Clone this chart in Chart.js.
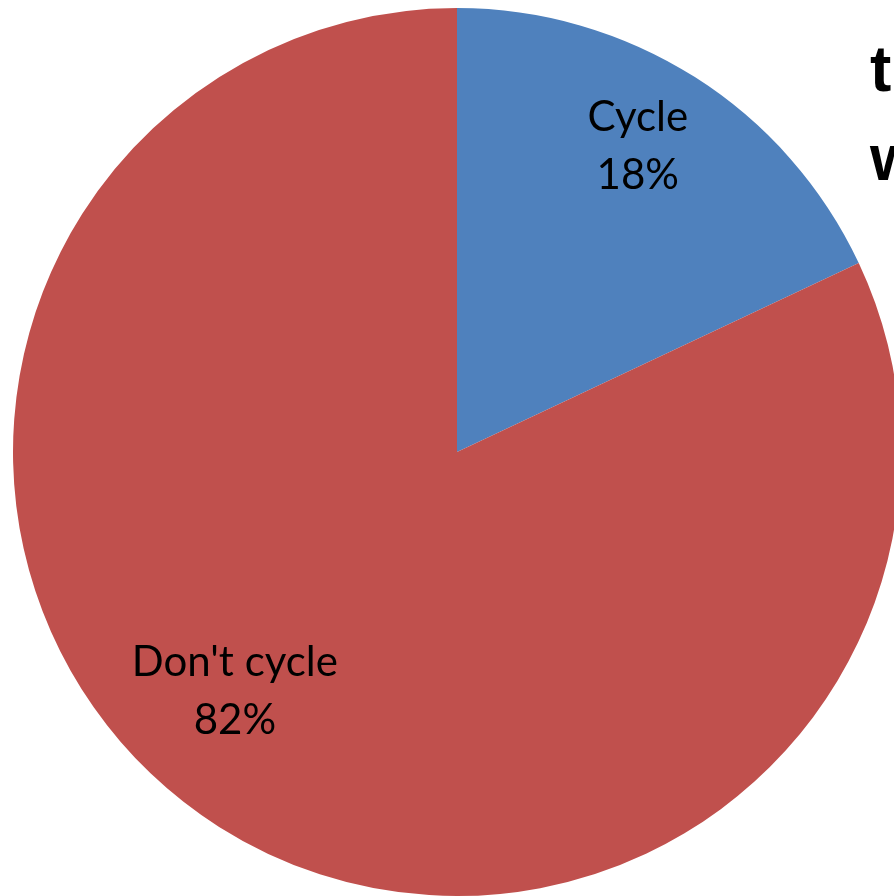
<!DOCTYPE html>
<html>
<head>
<meta charset="utf-8">
<script src="https://cdn.jsdelivr.net/npm/chart.js@4.4.1/dist/chart.umd.min.js"></script>
<style>
  html, body { margin: 0; padding: 0; background: #fff; overflow: hidden; }
  #wrap { position: absolute; left: 0; top: 0; width: 914px; height: 904px; }
</style>
</head>
<body>
<div id="wrap"><canvas id="chart"></canvas></div>
<script>
// dane wykresu
const categories = ["Cycle", "Don't cycle"];
const shares = [18, 82];
const sliceColors = ['#4F81BD', '#C0504D'];

// pozycje etykiet: kąt (stopnie od góry, zgodnie z zegarem) i ułamek promienia
const labelPlacement = [
    { angle: 30.6, frac: 0.80 },
    { angle: 222.9, frac: 0.735 }
];

// etykiety w środku wycinków (jak w Excelu)
const sliceLabels = {
    id: 'sliceLabels',
    afterDatasetsDraw(chart) {
        const ctx = chart.ctx;
        const meta = chart.getDatasetMeta(0);
        ctx.save();
        ctx.fillStyle = '#000';
        ctx.font = '42px Lato, "Open Sans", sans-serif';
        ctx.textAlign = 'center';
        ctx.textBaseline = 'middle';
        meta.data.forEach((arc, i) => {
            const p = labelPlacement[i];
            const a = p.angle * Math.PI / 180;
            const r = arc.outerRadius * p.frac;
            const x = arc.x + Math.sin(a) * r;
            const y = arc.y - Math.cos(a) * r;
            ctx.fillText(categories[i], x, y - 29);
            ctx.fillText(shares[i] + '%', x, y + 29);
        });
        ctx.restore();
    }
};

// ucięty tytuł po prawej stronie
const cutTitle = {
    id: 'cutTitle',
    afterDraw(chart) {
        const ctx = chart.ctx;
        ctx.save();
        ctx.fillStyle = '#000';
        ctx.font = 'bold 64px "Liberation Sans", Arial, sans-serif';
        ctx.textAlign = 'left';
        ctx.textBaseline = 'alphabetic';
        ctx.fillText('t', 870, 91);
        ctx.fillText('w', 870, 180);
        ctx.restore();
    }
};

new Chart(document.getElementById('chart'), {
    type: 'pie',
    data: {
        labels: categories,
        datasets: [{
            data: shares,
            backgroundColor: sliceColors,
            borderWidth: 0
        }]
    },
    options: {
        responsive: true,
        maintainAspectRatio: false,
        animation: false,
        layout: { padding: 8 },
        plugins: {
            legend: { display: false },
            tooltip: { enabled: false }
        }
    },
    plugins: [sliceLabels, cutTitle]
});
</script>
</body>
</html>
